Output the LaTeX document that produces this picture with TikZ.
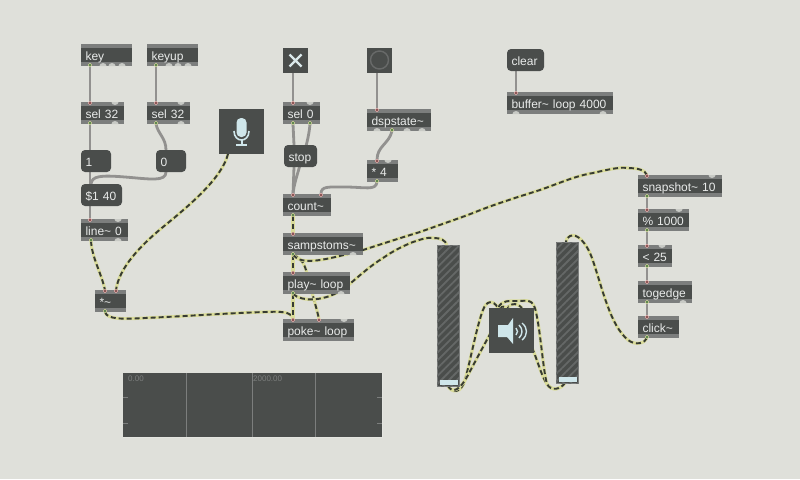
\documentclass[tikz,border=0pt]{standalone}
\usepackage{fontspec}
\setmainfont{Liberation Sans}
\usetikzlibrary{backgrounds,patterns.meta}
\definecolor{patchbg}{HTML}{DFE0DA}
\definecolor{objdark}{HTML}{4A4D4B}
\definecolor{objstrip}{HTML}{7C7E7D}
\definecolor{objtext}{HTML}{E9EBEA}
\definecolor{bump}{HTML}{C8CAC5}
\definecolor{cordgrey}{HTML}{92918F}
\definecolor{sigbase}{HTML}{DADC9A}
\definecolor{sigdash}{HTML}{373B33}
\definecolor{icon}{HTML}{CFE6EA}

\begin{document}
\begin{tikzpicture}
	[x=1pt, y=-1pt,
	obj/.style = {anchor=north west, fill=objdark, text=objtext, inner xsep=4.5pt, inner ysep=5pt, outer sep=0,
		text width=#1pt-9pt, text height=11pt, text depth=1pt, font=\fontsize{12}{14}\selectfont,
		path picture={
			\fill[objstrip] (path picture bounding box.north west) rectangle ([yshift=-4pt]path picture bounding box.north east);
			\fill[objstrip] (path picture bounding box.south west) rectangle ([yshift=4pt]path picture bounding box.south east);}},
	msg/.style = {anchor=north west, fill=objdark, text=objtext, rounded corners=4pt, inner xsep=4.5pt, inner ysep=5pt, outer sep=0,
		text width=#1pt-9pt, text height=11pt, text depth=1pt, font=\fontsize{12}{14}\selectfont},
	box/.style = {anchor=north west, fill=objdark, inner sep=0, outer sep=0, minimum width=#1pt, minimum height=#1pt},
	meter/.style = {anchor=north west, fill=objdark, draw=objstrip, line width=1pt, inner sep=0, outer sep=0,
		minimum width=22pt, minimum height=141pt,
		postaction={pattern={Lines[angle=45,distance=5.5pt,line width=1.8pt]}, pattern color=objstrip!55!objdark}},
	cord/.style = {draw=cordgrey, line width=2.8pt},
	sig/.style = {draw=sigdash, line width=1.9pt, dash pattern=on 5pt off 3pt,
		preaction={draw=sigbase, line width=3.1pt, solid}},
	inport/.style = {fill=objdark!80!red, draw=red!25!objtext, line width=.6pt},
	outport/.style = {fill=objdark!80!green, draw=sigbase, line width=.6pt}]
	\useasboundingbox (0,0) rectangle (800,479);

	% left column
	\node (key) [obj=51] at (81,44) {key};
	\node (keyup) [obj=51] at (147,44) {keyup};
	\node (sela) [obj=43] at (81,102) {sel 32};
	\node (selb) [obj=43] at (147,102) {sel 32};
	\node (one) [msg=30] at (81,150) {1};
	\node (zero) [msg=30] at (156,150) {0};
	\node (ramp) [msg=41] at (81,184) {\$1 40};
	\node (line) [obj=47] at (81,219) {line\textasciitilde{} 0};
	\node (mult) [obj=31] at (95,290) {*\textasciitilde{}};
	\node (mic) [box=45] at (219,109) {};

	% middle column
	\node (tog) [box=25] at (283,48) {};
	\node (dspbtn) [box=25] at (367,48) {};
	\node (selz) [obj=37] at (283,102) {sel 0};
	\node (dsp) [obj=64] at (367,109) {dspstate\textasciitilde{}};
	\node (stop) [msg=33] at (284,145) {stop};
	\node (four) [obj=31] at (367,160) {* 4};
	\node (count) [obj=48] at (283,194) {count\textasciitilde{}};
	\node (samps) [obj=80] at (283,233) {sampstoms\textasciitilde{}};
	\node (play) [obj=67] at (283,272) {play\textasciitilde{} loop};
	\node (poke) [obj=71] at (283,319) {poke\textasciitilde{} loop};

	% top right
	\node (clear) [msg=37] at (507,49) {clear};
	\node (buf) [obj=106] at (507,92) {buffer\textasciitilde{} loop 4000};

	% right column
	\node (snap) [obj=84] at (638,175) {snapshot\textasciitilde{} 10};
	\node (mod) [obj=51] at (638,209) {\% 1000};
	\node (less) [obj=34] at (638,245) {< 25};
	\node (edge) [obj=54] at (638,281) {togedge};
	\node (click) [obj=41] at (638,316) {click\textasciitilde{}};

	% meters, speaker, waveform
	\node (gainl) [meter] at (437,245) {};
	\node (gainr) [meter] at (556,242) {};
	\node (dac) [box=45] at (489,308) {};
	\node (wave) [anchor=north west, fill=objdark, inner sep=0, outer sep=0, minimum width=259pt, minimum height=64pt] at (123,373) {};
	\node (wavea) [anchor=west, text=objstrip, inner sep=0, font=\fontsize{8}{9}\selectfont] at (128,379) {0.00};
	\node (waveb) [anchor=west, text=objstrip, inner sep=0, font=\fontsize{8}{9}\selectfont] at (253,379) {2000.00};

	\fill[icon] (439.5,380) rectangle (457.5,384.5);
	\fill[icon] (558.5,377) rectangle (576.5,381.5);
	\draw[objstrip, line width=.6pt] (186,373) -- (186,437) (252,373) -- (252,437) (315,373) -- (315,437);
	\draw[objstrip, line width=.5pt] (123,397) -- (128,397) (123,423) -- (128,423) (377,397) -- (382,397) (377,423) -- (382,423);
	\draw[patchbg!85!white, line width=.8pt] (382,373) -- (382,437) -- (123,437);

	% icons
	\draw[icon!60!objtext, line width=2.4pt] (289.5,54.5) -- (301.5,66.5) (301.5,54.5) -- (289.5,66.5);
	\draw[objstrip!60!objdark, line width=1.4pt] (379.5,60) circle (9pt);
	\fill[icon, rounded corners=4.5pt] (236.5,118) rectangle (246.5,137);
	\draw[icon, line width=1.6pt] (234,131) .. controls (234,143) and (249,143) .. (249,131);
	\fill[icon] (240.5,139) rectangle (242.5,145);
	\fill[icon] (236,144) rectangle (247,146);
	\fill[icon] (498,325) -- (508,325) -- (513,318) -- (513,344) -- (507,337) -- (498,337) -- cycle;
	\draw[icon, line width=1.4pt] (516,328) .. controls (518,330) and (518,333) .. (516,335);
	\draw[icon, line width=1.4pt] (519,325) .. controls (523,329) and (523,334) .. (519,338);
	\draw[icon, line width=1.4pt] (522,323) .. controls (528,328) and (528,335) .. (522,340);

	% patch cords stay behind the objects
	\begin{scope}[on background layer]
		\fill[patchbg] (0,0) rectangle (800,479);
		\draw[cord] ([xshift=9pt]key.south west) -- ([xshift=9pt]sela.north west);
		\draw[cord] ([xshift=9pt]keyup.south west) -- ([xshift=9pt]selb.north west);
		\draw[cord] ([xshift=9pt]sela.south west) -- ([xshift=9pt]one.north west);
		\draw[cord] ([xshift=9pt]selb.south west) .. controls (158,134) and (166,138) .. ([xshift=10pt]zero.north west);
		\draw[cord] ([xshift=9pt]one.south west) -- ([xshift=9pt]ramp.north west);
		\draw[cord] ([xshift=10pt]zero.south west) .. controls (166,182) and (150,179) .. (125,177) .. controls (100,175) and (92,176) .. ([xshift=10pt]ramp.north west);
		\draw[cord] ([xshift=9pt]ramp.south west) -- ([xshift=9pt]line.north west);
		\draw[cord] ([xshift=10pt]tog.south west) -- ([xshift=10pt]selz.north west);
		\draw[cord] ([xshift=10pt]selz.south west) -- ([xshift=10pt]stop.north west);
		\draw[cord] ([xshift=27pt]selz.south west) .. controls (309,136) and (306,148) .. (300,165) .. controls (297,176) and (294,184) .. ([xshift=10pt]count.north west);
		\draw[cord] ([xshift=10pt]stop.south west) -- ([xshift=10pt]count.north west);
		\draw[cord] ([xshift=10pt]dspbtn.south west) -- ([xshift=10pt]dsp.north west);
		\draw[cord] ([xshift=25pt]dsp.south west) .. controls (389,144) and (377,146) .. ([xshift=10pt]four.north west);
		\draw[cord] ([xshift=10pt]four.south west) .. controls (376,191) and (365,187) .. (345,187) .. controls (328,187) and (321,186) .. ([xshift=38pt]count.north west);
		\draw[cord] ([xshift=9pt]clear.south west) -- ([xshift=9pt]buf.north west);
		\draw[cord] ([xshift=9pt]snap.south west) -- ([xshift=9pt]mod.north west);
		\draw[cord] ([xshift=9pt]mod.south west) -- ([xshift=9pt]less.north west);
		\draw[cord] ([xshift=9pt]less.south west) -- ([xshift=9pt]edge.north west);
		\draw[cord] ([xshift=9pt]edge.south west) -- ([xshift=9pt]click.north west);

		\draw[sig] ([xshift=10pt]line.south west) .. controls (92,258) and (101,272) .. ([xshift=10pt]mult.north west);
		\draw[sig] ([xshift=9pt]mic.south west) .. controls (222,178) and (190,205) .. (163,227) .. controls (140,246) and (119,268) .. ([xshift=21pt]mult.north west);
		\draw[sig] ([xshift=10pt]mult.south west) .. controls (107,320) and (125,319) .. (145,318) .. controls (190,316) and (230,313) .. (265,312) .. controls (280,311.5) and (291,311) .. ([xshift=10pt]poke.north west);
		\draw[sig] ([xshift=10pt]count.south west) -- ([xshift=10pt]samps.north west);
		\draw[sig] ([xshift=10pt]samps.south west) -- ([xshift=10pt]play.north west);
		\draw[sig] ([xshift=10pt]samps.south west) .. controls (305,259) and (306,270) .. (310,285) .. controls (314,300) and (317,310) .. ([xshift=36pt]poke.north west);
		\draw[sig] ([xshift=10pt]play.south west) -- ([xshift=10pt]poke.north west);
		\draw[sig] ([xshift=10pt]samps.south west) .. controls (302,266) and (325,260) .. (363,250) .. controls (385,243) and (400,238) .. (420,232) .. controls (445,223) and (460,218) .. (473,213) .. controls (495,204) and (518,197) .. (540,190) .. controls (560,183) and (575,176) .. (593,173) .. controls (610,169) and (620,167) .. (627,168) .. controls (638,168) and (645,170) .. ([xshift=9pt]snap.north west);
		\draw[sig] ([xshift=10pt]play.south west) .. controls (302,302) and (325,302) .. (345,288) .. controls (358,277) and (370,266) .. (383,258) .. controls (393,251) and (403,246) .. (413,242) .. controls (422,239) and (428,237) .. (433,238) .. controls (441,238) and (445,240) .. ([xshift=10pt]gainl.north west);
		\draw[sig] ([xshift=9pt]click.south west) .. controls (645,343) and (636,346) .. (628,340) .. controls (610,325) and (603,290) .. (592,258) .. controls (586,242) and (577,233) .. (570,236) .. controls (567,237) and (566,240) .. ([xshift=10pt]gainr.north west);
		\draw[sig] ([xshift=11pt]gainl.south west) .. controls (452,393) and (461,394) .. (465,380) .. controls (471,358) and (477,325) .. (483,310) .. controls (486,301) and (493,299) .. ([xshift=9pt]dac.north west);
		\draw[sig] ([xshift=11pt]gainl.south west) .. controls (452,393) and (459,392) .. (468,375) .. controls (476,360) and (484,345) .. (495,325) .. controls (505,308) and (512,298) .. ([xshift=33pt]dac.north west);
		\draw[sig] ([xshift=9pt]gainr.south west) .. controls (561,389) and (553,392) .. (547,384) .. controls (542,377) and (539,365) .. (533,350) .. controls (525,330) and (512,300) .. ([xshift=9pt]dac.north west);
		\draw[sig] ([xshift=9pt]gainr.south west) .. controls (561,389) and (551,392) .. (547,384) .. controls (543,370) and (541,335) .. (536,312) .. controls (533,298) and (527,301) .. (518,301) .. controls (508,301) and (502,300) .. ([xshift=9pt]dac.north west);
	\end{scope}

	% unused inlets and outlets
	\foreach \n/\o in {key/22,key/31,key/41,keyup/22,keyup/31,keyup/41,sela/34,selb/34,line/37,dsp/10,dsp/40,dsp/55,samps/70,play/58,buf/9,buf/96,edge/45}
		\fill[bump] ([xshift=\o pt]\n.south west) ++(3.5pt,0pt) arc[start angle=0, end angle=180, x radius=3.5pt, y radius=3pt] -- cycle;
	\foreach \n/\o in {sela/34,selb/34,line/37,selz/27,four/21,poke/61,snap/74,mod/41,less/24}
		\fill[bump] ([xshift=\o pt]\n.north west) ++(-3.5pt,0pt) arc[start angle=180, end angle=360, x radius=3.5pt, y radius=3pt] -- cycle;

	% connected inlets and outlets
	\foreach \n/\o in {sela/9,selb/9,line/9,mult/10,mult/21,selz/10,dsp/10,four/10,count/10,count/38,samps/10,play/10,poke/10,poke/36,buf/9,snap/9,mod/9,less/9,edge/9,click/9}
		\draw[inport] ([xshift=\o pt, yshift=-1pt]\n.north west) circle (1.7pt);
	\foreach \n/\o in {key/9,keyup/9,sela/9,selb/9,line/10,mult/10,selz/10,selz/27,dsp/25,four/10,count/10,samps/10,play/10,snap/9,mod/9,less/9,edge/9,click/9}
		\draw[outport] ([xshift=\o pt, yshift=1pt]\n.south west) circle (1.7pt);
\end{tikzpicture}
\end{document}
